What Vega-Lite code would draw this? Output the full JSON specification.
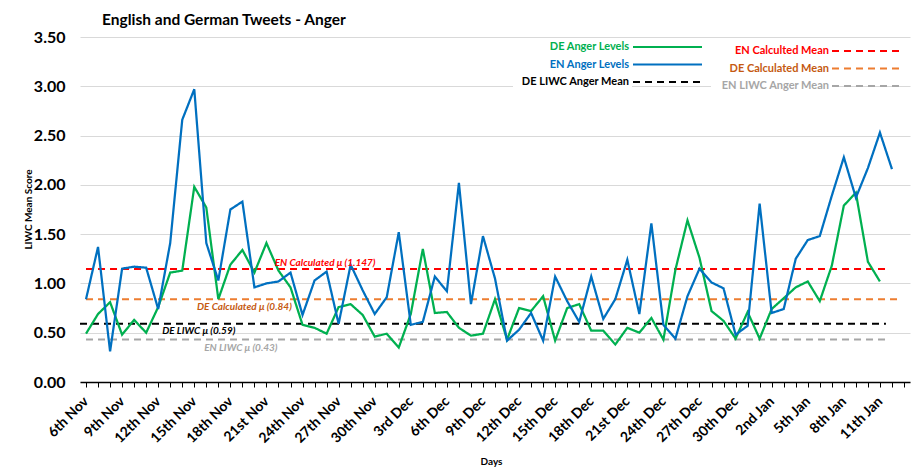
{
  "$schema": "https://vega.github.io/schema/vega-lite/v6.json",
  "width": 830,
  "height": 345,
  "autosize": {"type": "none"},
  "padding": {"left": 80, "top": 37, "right": 10, "bottom": 94},
  "background": "white",
  "title": {
    "text": "English and German Tweets - Anger",
    "anchor": "start",
    "frame": "group",
    "dx": 22,
    "dy": 9,
    "offset": 10,
    "fontSize": 15.5,
    "fontWeight": "bold",
    "font": "Lato",
    "color": "#000000"
  },
  "datasets": {
    "daily": [
      {"date": "2019-11-06", "DE Anger Levels": 0.49, "EN Anger Levels": 0.84},
      {"date": "2019-11-07", "DE Anger Levels": 0.69, "EN Anger Levels": 1.37},
      {"date": "2019-11-08", "DE Anger Levels": 0.81, "EN Anger Levels": 0.31},
      {"date": "2019-11-09", "DE Anger Levels": 0.48, "EN Anger Levels": 1.15},
      {"date": "2019-11-10", "DE Anger Levels": 0.63, "EN Anger Levels": 1.17},
      {"date": "2019-11-11", "DE Anger Levels": 0.50, "EN Anger Levels": 1.16},
      {"date": "2019-11-12", "DE Anger Levels": 0.76, "EN Anger Levels": 0.74},
      {"date": "2019-11-13", "DE Anger Levels": 1.11, "EN Anger Levels": 1.41},
      {"date": "2019-11-14", "DE Anger Levels": 1.13, "EN Anger Levels": 2.66},
      {"date": "2019-11-15", "DE Anger Levels": 1.98, "EN Anger Levels": 2.97},
      {"date": "2019-11-16", "DE Anger Levels": 1.77, "EN Anger Levels": 1.41},
      {"date": "2019-11-17", "DE Anger Levels": 0.84, "EN Anger Levels": 1.03},
      {"date": "2019-11-18", "DE Anger Levels": 1.19, "EN Anger Levels": 1.75},
      {"date": "2019-11-19", "DE Anger Levels": 1.34, "EN Anger Levels": 1.83},
      {"date": "2019-11-20", "DE Anger Levels": 1.11, "EN Anger Levels": 0.96},
      {"date": "2019-11-21", "DE Anger Levels": 1.41, "EN Anger Levels": 1.00},
      {"date": "2019-11-22", "DE Anger Levels": 1.13, "EN Anger Levels": 1.02},
      {"date": "2019-11-23", "DE Anger Levels": 0.96, "EN Anger Levels": 1.11},
      {"date": "2019-11-24", "DE Anger Levels": 0.58, "EN Anger Levels": 0.68},
      {"date": "2019-11-25", "DE Anger Levels": 0.55, "EN Anger Levels": 1.03},
      {"date": "2019-11-26", "DE Anger Levels": 0.49, "EN Anger Levels": 1.12},
      {"date": "2019-11-27", "DE Anger Levels": 0.76, "EN Anger Levels": 0.59},
      {"date": "2019-11-28", "DE Anger Levels": 0.79, "EN Anger Levels": 1.19},
      {"date": "2019-11-29", "DE Anger Levels": 0.68, "EN Anger Levels": 0.93},
      {"date": "2019-11-30", "DE Anger Levels": 0.46, "EN Anger Levels": 0.69},
      {"date": "2019-12-01", "DE Anger Levels": 0.49, "EN Anger Levels": 0.86},
      {"date": "2019-12-02", "DE Anger Levels": 0.35, "EN Anger Levels": 1.52},
      {"date": "2019-12-03", "DE Anger Levels": 0.69, "EN Anger Levels": 0.58},
      {"date": "2019-12-04", "DE Anger Levels": 1.35, "EN Anger Levels": 0.61},
      {"date": "2019-12-05", "DE Anger Levels": 0.70, "EN Anger Levels": 1.07},
      {"date": "2019-12-06", "DE Anger Levels": 0.71, "EN Anger Levels": 0.92},
      {"date": "2019-12-07", "DE Anger Levels": 0.55, "EN Anger Levels": 2.02},
      {"date": "2019-12-08", "DE Anger Levels": 0.47, "EN Anger Levels": 0.79},
      {"date": "2019-12-09", "DE Anger Levels": 0.49, "EN Anger Levels": 1.48},
      {"date": "2019-12-10", "DE Anger Levels": 0.84, "EN Anger Levels": 1.05},
      {"date": "2019-12-11", "DE Anger Levels": 0.43, "EN Anger Levels": 0.42},
      {"date": "2019-12-12", "DE Anger Levels": 0.75, "EN Anger Levels": 0.53},
      {"date": "2019-12-13", "DE Anger Levels": 0.72, "EN Anger Levels": 0.70},
      {"date": "2019-12-14", "DE Anger Levels": 0.87, "EN Anger Levels": 0.42},
      {"date": "2019-12-15", "DE Anger Levels": 0.42, "EN Anger Levels": 1.07},
      {"date": "2019-12-16", "DE Anger Levels": 0.75, "EN Anger Levels": 0.82},
      {"date": "2019-12-17", "DE Anger Levels": 0.79, "EN Anger Levels": 0.61},
      {"date": "2019-12-18", "DE Anger Levels": 0.52, "EN Anger Levels": 1.07},
      {"date": "2019-12-19", "DE Anger Levels": 0.52, "EN Anger Levels": 0.64},
      {"date": "2019-12-20", "DE Anger Levels": 0.38, "EN Anger Levels": 0.84},
      {"date": "2019-12-21", "DE Anger Levels": 0.55, "EN Anger Levels": 1.24},
      {"date": "2019-12-22", "DE Anger Levels": 0.50, "EN Anger Levels": 0.69},
      {"date": "2019-12-23", "DE Anger Levels": 0.65, "EN Anger Levels": 1.61},
      {"date": "2019-12-24", "DE Anger Levels": 0.43, "EN Anger Levels": 0.58},
      {"date": "2019-12-25", "DE Anger Levels": 1.14, "EN Anger Levels": 0.44},
      {"date": "2019-12-26", "DE Anger Levels": 1.64, "EN Anger Levels": 0.87},
      {"date": "2019-12-27", "DE Anger Levels": 1.26, "EN Anger Levels": 1.15},
      {"date": "2019-12-28", "DE Anger Levels": 0.72, "EN Anger Levels": 1.01},
      {"date": "2019-12-29", "DE Anger Levels": 0.62, "EN Anger Levels": 0.95},
      {"date": "2019-12-30", "DE Anger Levels": 0.44, "EN Anger Levels": 0.48},
      {"date": "2019-12-31", "DE Anger Levels": 0.71, "EN Anger Levels": 0.57},
      {"date": "2020-01-01", "DE Anger Levels": 0.44, "EN Anger Levels": 1.81},
      {"date": "2020-01-02", "DE Anger Levels": 0.74, "EN Anger Levels": 0.70},
      {"date": "2020-01-03", "DE Anger Levels": 0.85, "EN Anger Levels": 0.74},
      {"date": "2020-01-04", "DE Anger Levels": 0.96, "EN Anger Levels": 1.25},
      {"date": "2020-01-05", "DE Anger Levels": 1.02, "EN Anger Levels": 1.44},
      {"date": "2020-01-06", "DE Anger Levels": 0.82, "EN Anger Levels": 1.48},
      {"date": "2020-01-07", "DE Anger Levels": 1.18, "EN Anger Levels": 1.89},
      {"date": "2020-01-08", "DE Anger Levels": 1.79, "EN Anger Levels": 2.28},
      {"date": "2020-01-09", "DE Anger Levels": 1.92, "EN Anger Levels": 1.87},
      {"date": "2020-01-10", "DE Anger Levels": 1.22, "EN Anger Levels": 2.17},
      {"date": "2020-01-11", "DE Anger Levels": 1.02, "EN Anger Levels": 2.53},
      {"date": "2020-01-12", "EN Anger Levels": 2.16}
    ],
    "means2": [
      {"series": "EN Calculted Mean", "value": 1.147, "start": "2019-11-06", "end": "2020-01-11T12:00:00Z"},
      {"series": "DE Calculated Mean", "value": 0.84, "start": "2019-11-06", "end": "2020-01-12T12:00:00Z"},
      {"series": "EN LIWC Anger Mean", "value": 0.43, "start": "2019-11-06", "end": "2020-01-11T12:00:00Z"}
    ],
    "means1": [
      {"series": "DE LIWC Anger Mean", "value": 0.59, "start": "2019-11-05T12:00:00Z", "end": "2020-01-11T12:00:00Z"}
    ],
    "legend1": [
      {"series": "DE Anger Levels"},
      {"series": "EN Anger Levels"},
      {"series": "DE LIWC Anger Mean"}
    ],
    "notes": [
      {"series": "EN Calculted Mean", "text": "EN Calculated μ (1.147)", "date": "2019-11-25T21:00:00Z", "value": 1.147},
      {"series": "DE Calculated Mean", "text": "DE Calculated μ (0.84)", "date": "2019-11-19T04:00:00Z", "value": 0.84},
      {"series": "DE LIWC Anger Mean", "text": "DE LIWC μ (0.59)", "date": "2019-11-15T09:00:00Z", "value": 0.59},
      {"series": "EN LIWC Anger Mean", "text": "EN LIWC μ (0.43)", "date": "2019-11-18T21:00:00Z", "value": 0.43}
    ]
  },
  "layer": [
    {
      "data": {"name": "means2"},
      "mark": {"type": "rule", "strokeDash": [7, 5], "strokeWidth": 2},
      "encoding": {
        "x": {"field": "start", "type": "temporal"},
        "x2": {"field": "end"},
        "y": {"field": "value", "type": "quantitative"},
        "stroke": {
          "field": "series",
          "type": "nominal",
          "scale": {
            "domain": ["EN Calculted Mean", "DE Calculated Mean", "EN LIWC Anger Mean"],
            "range": ["#FF0000", "#ED7D31", "#A6A6A6"]
          },
          "legend": {
            "orient": "none",
            "legendX": 751,
            "legendY": 8.5,
            "title": null,
            "padding": 0,
            "symbolType": "stroke",
            "symbolSize": 4761,
            "symbolStrokeWidth": 2,
            "symbolDash": [7, 5],
            "labelExpr": "''",
            "labelOpacity": 0,
            "clipHeight": 11,
            "rowPadding": 5.5
          }
        }
      }
    },
    {
      "data": {"name": "means1"},
      "mark": {"type": "rule", "strokeWidth": 2},
      "encoding": {
        "x": {"field": "start", "type": "temporal"},
        "x2": {"field": "end"},
        "y": {"field": "value", "type": "quantitative"},
        "color": {"field": "series", "type": "nominal"},
        "strokeDash": {"field": "series", "type": "nominal"}
      }
    },
    {
      "data": {"name": "daily"},
      "transform": [
        {"fold": ["DE Anger Levels", "EN Anger Levels"], "as": ["series", "value"]}
      ],
      "mark": {"type": "line", "strokeWidth": 2.25},
      "encoding": {
        "x": {
          "field": "date",
          "type": "temporal",
          "scale": {
            "type": "utc",
            "domain": [
              {"year": 2019, "month": 11, "date": 5, "hours": 12, "utc": true},
              {"year": 2020, "month": 1, "date": 13, "hours": 12, "utc": true}
            ]
          },
          "axis": {
            "title": "Days",
            "titleFontSize": 10,
            "titleFontWeight": "bold",
            "titleX": 411,
            "titleY": 79,
            "titleBaseline": "middle",
            "tickCount": {"interval": "day", "step": 1},
            "labelExpr": "(round((datum.value - utc(2019,10,6))/86400000) % 3 == 0) ? (utcdate(datum.value) + (indexof([1,21,31], utcdate(datum.value)) >= 0 ? 'st' : indexof([2,22], utcdate(datum.value)) >= 0 ? 'nd' : indexof([3,23], utcdate(datum.value)) >= 0 ? 'rd' : 'th') + ' ' + utcFormat(datum.value, '%b')) : ''",
            "labelAngle": -45,
            "labelAlign": "right",
            "labelBaseline": "middle",
            "labelFontSize": 14,
            "labelFontWeight": "bold",
            "labelOverlap": false,
            "labelFlush": false,
            "labelBound": false,
            "labelPadding": 12,
            "tickSize": 5,
            "tickColor": "#000000",
            "domainColor": "#000000",
            "domainWidth": 1.5,
            "grid": false
          }
        },
        "y": {
          "field": "value",
          "type": "quantitative",
          "scale": {"domain": [0, 3.5], "nice": false, "zero": true},
          "axis": {
            "title": "LIWC Mean Score",
            "titleFontSize": 10,
            "titleFontWeight": "bold",
            "titleX": -52,
            "titleY": 172,
            "titleAngle": -90,
            "titleAlign": "center",
            "titleBaseline": "middle",
            "values": [0, 0.5, 1, 1.5, 2, 2.5, 3, 3.5],
            "format": ".2f",
            "labelFontSize": 16,
            "labelFontWeight": "bold",
            "labelPadding": 15,
            "domain": false,
            "ticks": false,
            "grid": true,
            "gridColor": "#D9D9D9",
            "gridWidth": 1
          }
        },
        "color": {
          "field": "series",
          "type": "nominal",
          "scale": {
            "domain": ["DE Anger Levels", "EN Anger Levels", "DE LIWC Anger Mean"],
            "range": ["#00B050", "#0070C0", "#000000"]
          },
          "legend": {
            "orient": "none",
            "legendX": 552,
            "legendY": 4.5,
            "title": null,
            "padding": 0,
            "symbolType": "stroke",
            "symbolSize": 4761,
            "symbolStrokeWidth": 2,
            "labelExpr": "''",
            "labelOpacity": 0,
            "clipHeight": 11,
            "rowPadding": 5.5
          }
        },
        "strokeDash": {
          "field": "series",
          "type": "nominal",
          "scale": {
            "domain": ["DE Anger Levels", "EN Anger Levels", "DE LIWC Anger Mean"],
            "range": [[1, 0], [1, 0], [7, 5]]
          }
        }
      }
    },
    {
      "data": {"name": "notes"},
      "transform": [{"filter": "datum.series == 'EN Calculted Mean'"}],
      "mark": {"type": "text", "color": "#FF0000", "fontSize": 10, "fontWeight": "bold", "fontStyle": "italic", "align": "center", "baseline": "middle", "dy": -6},
      "encoding": {
        "x": {"field": "date", "type": "temporal"},
        "y": {"field": "value", "type": "quantitative"},
        "text": {"field": "text"}
      }
    },
    {
      "data": {"name": "notes"},
      "transform": [{"filter": "datum.series == 'DE Calculated Mean'"}],
      "mark": {"type": "text", "color": "#C55A11", "fontSize": 10, "fontWeight": "bold", "fontStyle": "italic", "align": "center", "baseline": "middle", "dy": 8},
      "encoding": {
        "x": {"field": "date", "type": "temporal"},
        "y": {"field": "value", "type": "quantitative"},
        "text": {"field": "text"}
      }
    },
    {
      "data": {"name": "notes"},
      "transform": [{"filter": "datum.series == 'DE LIWC Anger Mean'"}],
      "mark": {"type": "text", "color": "#000000", "fontSize": 10, "fontWeight": "bold", "fontStyle": "italic", "align": "center", "baseline": "middle", "dy": 7},
      "encoding": {
        "x": {"field": "date", "type": "temporal"},
        "y": {"field": "value", "type": "quantitative"},
        "text": {"field": "text"}
      }
    },
    {
      "data": {"name": "notes"},
      "transform": [{"filter": "datum.series == 'EN LIWC Anger Mean'"}],
      "mark": {"type": "text", "color": "#A6A6A6", "fontSize": 10, "fontWeight": "bold", "fontStyle": "italic", "align": "center", "baseline": "middle", "dy": 8},
      "encoding": {
        "x": {"field": "date", "type": "temporal"},
        "y": {"field": "value", "type": "quantitative"},
        "text": {"field": "text"}
      }
    },
    {
      "data": {"name": "legend1"},
      "mark": {"type": "point", "opacity": 0, "filled": true},
      "encoding": {
        "fill": {
          "field": "series",
          "type": "nominal",
          "sort": null,
          "legend": {
            "orient": "none",
            "legendX": 433,
            "legendY": 1.5,
            "title": null,
            "padding": 3,
            "fillColor": "#FFFFFF",
            "symbolSize": 0,
            "symbolStrokeWidth": 0,
            "symbolOpacity": 0,
            "labelAlign": "right",
            "labelOffset": 102,
            "clipHeight": 11,
            "rowPadding": 5.5,
            "labelColor": {"expr": "datum.value === 'DE Anger Levels' ? '#00B050' : datum.value === 'EN Anger Levels' ? '#0070C0' : '#000000'"}
          }
        }
      }
    },
    {
      "data": {"name": "means2"},
      "mark": {"type": "point", "opacity": 0, "filled": true},
      "encoding": {
        "shape": {
          "field": "series",
          "type": "nominal",
          "sort": null,
          "legend": {
            "orient": "none",
            "legendX": 631,
            "legendY": 5.5,
            "title": null,
            "padding": 3,
            "fillColor": "#FFFFFF",
            "symbolSize": 0,
            "symbolStrokeWidth": 0,
            "symbolOpacity": 0,
            "labelAlign": "right",
            "labelOffset": 104,
            "clipHeight": 11,
            "rowPadding": 5.5,
            "labelColor": {"expr": "datum.value === 'EN Calculted Mean' ? '#FF0000' : datum.value === 'DE Calculated Mean' ? '#C55A11' : '#A6A6A6'"}
          }
        }
      }
    }
  ],
  "config": {
    "font": "Lato",
    "view": {"fill": "#F2F2F2", "stroke": null},
    "axis": {"labelFont": "Lato", "titleFont": "Lato", "labelColor": "#000000", "titleColor": "#000000"},
    "legend": {"labelFont": "Lato", "labelFontSize": 11, "labelFontWeight": "bold"}
  }
}
